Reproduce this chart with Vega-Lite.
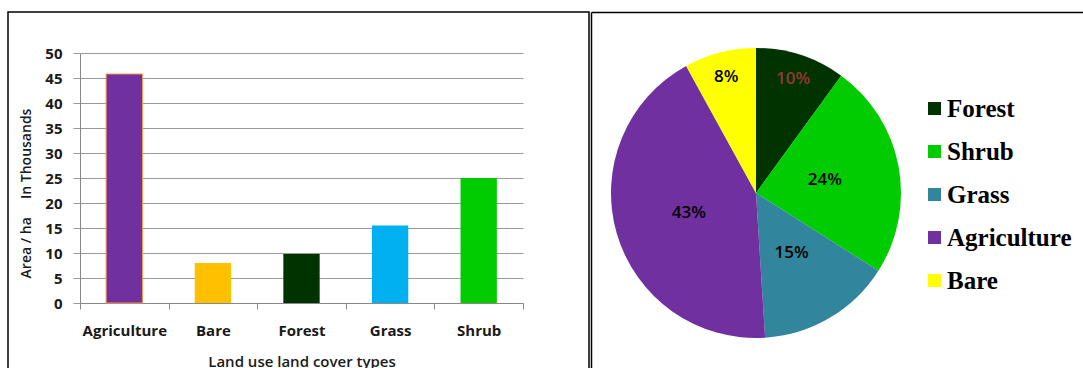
{
  "$schema": "https://vega.github.io/schema/vega-lite/v6.json",
  "background": "white",
  "padding": {"left": 7, "top": 9, "right": 0, "bottom": 0},
  "autosize": {"type": "pad"},
  "spacing": -2,
  "config": {
    "view": {"stroke": "#000", "strokeWidth": 1.5},
    "font": "Open Sans"
  },
  "resolve": {"scale": {"color": "independent"}},
  "hconcat": [
    {
      "width": 581,
      "height": 362,
      "data": {
        "values": [
          {"cover": "Agriculture", "area": 45.8},
          {"cover": "Bare", "area": 8},
          {"cover": "Forest", "area": 9.8},
          {"cover": "Grass", "area": 15.5},
          {"cover": "Shrub", "area": 25}
        ]
      },
      "mark": {"type": "bar", "strokeWidth": 1, "width": {"band": 0.41}},
      "encoding": {
        "x": {
          "field": "cover",
          "type": "nominal",
          "sort": ["Agriculture", "Bare", "Forest", "Grass", "Shrub"],
          "scale": {"range": [72, 515], "paddingInner": 0, "paddingOuter": 0},
          "axis": {
            "offset": -71,
            "labelAngle": 0,
            "tickBand": "extent",
            "tickSize": 6,
            "tickColor": "#888",
            "domainColor": "#888",
            "labelPadding": 14,
            "labelFontSize": 15,
            "labelFontWeight": "bold",
            "labelColor": "#1a1a1a",
            "title": "Land use land cover types",
            "titleFontSize": 15,
            "titleFontWeight": 600,
            "titleColor": "#1a1a1a",
            "titleBaseline": "top",
            "titleY": 51,
            "grid": false
          }
        },
        "y": {
          "field": "area",
          "type": "quantitative",
          "scale": {"domain": [0, 50], "range": [291, 41], "nice": false},
          "axis": {
            "offset": -72,
            "values": [0, 5, 10, 15, 20, 25, 30, 35, 40, 45, 50],
            "tickSize": 7,
            "tickColor": "#999",
            "domainColor": "#888",
            "gridColor": "#999",
            "labelPadding": 11,
            "labelFontSize": 15,
            "labelFontWeight": "bold",
            "labelColor": "#1a1a1a",
            "title": "Area / ha\u00a0\u00a0\u00a0\u00a0\u00a0In Thousands",
            "titleFontSize": 14,
            "titleFontWeight": 600,
            "titleColor": "#1a1a1a",
            "titleAngle": -90,
            "titleBaseline": "middle",
            "titleX": -54,
            "titleY": 181
          }
        },
        "color": {
          "field": "cover",
          "type": "nominal",
          "scale": {
            "domain": ["Agriculture", "Bare", "Forest", "Grass", "Shrub"],
            "range": ["#7030A0", "#FFC000", "#003300", "#00B0F0", "#00CC00"]
          },
          "legend": null
        },
        "stroke": {
          "condition": {"test": "datum.cover === 'Agriculture'", "value": "#F79646"},
          "value": "transparent"
        }
      }
    },
    {
      "width": 330,
      "height": 362,
      "view": {"stroke": null},
      "data": {
        "values": [
          {"cover": "Forest", "share": 0.10, "slice": 1},
          {"cover": "Shrub", "share": 0.24, "slice": 2},
          {"cover": "Grass", "share": 0.15, "slice": 3},
          {"cover": "Agriculture", "share": 0.43, "slice": 4},
          {"cover": "Bare", "share": 0.08, "slice": 5}
        ]
      },
      "layer": [
        {
          "mark": {"type": "point", "opacity": 0},
          "encoding": {
            "x": {
              "datum": 0,
              "type": "quantitative",
              "scale": {"domain": [0, 1], "range": [0, 500]},
              "axis": {"orient": "top", "domainColor": "#000", "domainWidth": 1.5, "ticks": false, "labels": false, "grid": false, "title": null}
            },
            "y": {
              "datum": 0,
              "type": "quantitative",
              "scale": {"domain": [0, 1], "range": [0, 362]},
              "axis": {"orient": "left", "domainColor": "#000", "domainWidth": 1.5, "ticks": false, "labels": false, "grid": false, "title": null}
            }
          }
        },
        {
          "mark": {"type": "arc", "outerRadius": 145},
          "encoding": {
            "theta": {"field": "share", "type": "quantitative", "stack": true},
            "order": {"field": "slice", "type": "quantitative"},
            "color": {
              "field": "cover",
              "type": "nominal",
              "scale": {
                "domain": ["Forest", "Shrub", "Grass", "Agriculture", "Bare"],
                "range": ["#003300", "#00CC00", "#31859C", "#7030A0", "#FFFF00"]
              },
              "legend": {
                "orient": "none",
                "legendX": 331,
                "legendY": 84,
                "title": null,
                "symbolType": "square",
                "symbolSize": 169,
                "symbolStrokeWidth": 0,
                "symbolOpacity": 1,
                "labelFont": "Liberation Serif",
                "labelFontWeight": "bold",
                "labelFontSize": 25,
                "labelColor": "#000",
                "labelOffset": 0,
                "labelLimit": 300,
                "rowPadding": 17
              }
            }
          }
        },
        {
          "mark": {"type": "text", "radius": 70, "fontSize": 17, "fontWeight": 600},
          "encoding": {
            "theta": {"field": "share", "type": "quantitative", "stack": true},
            "order": {"field": "slice", "type": "quantitative"},
            "text": {
              "condition": {"test": "datum.share > 0.12", "field": "share", "type": "quantitative", "format": ".0%"},
              "value": ""
            },
            "color": {"value": "#000"}
          }
        },
        {
          "mark": {"type": "text", "radius": 120, "fontSize": 17, "fontWeight": 600},
          "encoding": {
            "theta": {"field": "share", "type": "quantitative", "stack": true},
            "order": {"field": "slice", "type": "quantitative"},
            "text": {
              "condition": {"test": "datum.share <= 0.12", "field": "share", "type": "quantitative", "format": ".0%"},
              "value": ""
            },
            "color": {
              "condition": {"test": "datum.cover === 'Forest'", "value": "#953735"},
              "value": "#000"
            }
          }
        }
      ]
    }
  ]
}
